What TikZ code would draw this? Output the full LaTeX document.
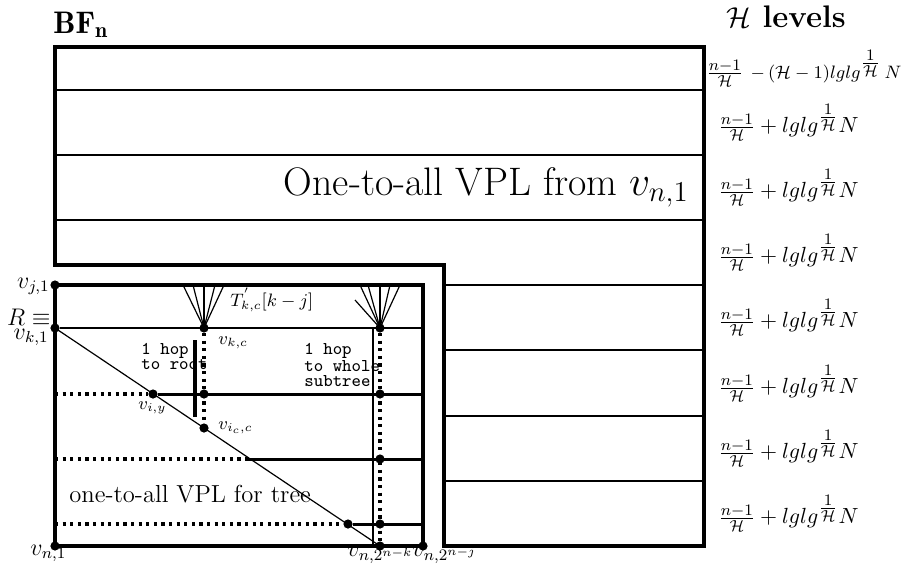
\documentclass[tikz,border=0pt]{standalone}
\usepackage{fontspec}
\usepackage{amsmath}
\usetikzlibrary{positioning}

\newcommand{\lvlcost}{$\frac{n-1}{\mathcal{H}} + lglg^{\textstyle\frac{1}{\mathcal{H}}}N$}

\begin{document}
\begin{tikzpicture}[
    x=0.5pt, y=-0.5pt,
    frame/.style     = {line width=2pt},
    rule/.style      = {line width=1.2pt},
    treeline/.style  = {line width=1.5pt},
    fanline/.style   = {line width=0.6pt},
    hop/.style       = {line width=1.6pt, dash pattern=on 1.6pt off 2.2pt},
    dot/.style       = {circle, fill, inner sep=0pt, minimum size=4.6pt},
    lvl/.style       = {anchor=west, inner sep=0pt, font=\fontsize{10.95}{13}\selectfont},
    vname/.style     = {inner sep=0pt, font=\fontsize{12}{14}\selectfont},
    tag/.style       = {inner sep=0pt, font=\fontsize{9}{10}\selectfont},
    note/.style      = {inner sep=0pt, align=left, font=\fontsize{9}{7.4}\selectfont\ttfamily}
]
\useasboundingbox (0,0) rectangle (910,569);

% BF_n levels: upper band and right column
\draw[frame] (444,546) -- (704,546) -- (704,47) -- (55,47) -- (55,265) -- (444,265) -- cycle;
\foreach \y in {90, 155, 220}
    \draw[rule] (55,\y) -- (704,\y);
\foreach \y in {285, 350, 416, 481}
    \draw[rule] (444,\y) -- (704,\y);

% tree nodes
\node[dot] (vj1)   at (55,285)  {};
\node[dot] (R)     at (55,328)  {};
\node[dot] (vkc)   at (204,328) {};
\node[dot] (vsub)  at (380,328) {};
\node[dot] (viy)   at (153,394) {};
\node[dot] (vcy)   at (204,394) {};
\node[dot] (vsy)   at (380,394) {};
\node[dot] (vic)   at (204,428) {};
\node[dot] (vsz)   at (380,459) {};
\node[dot] (vlast) at (348,524) {};
\node[dot] (vsw)   at (380,524) {};
\node[dot] (vn1)   at (55,546)  {};
\node[dot] (vnk)   at (380,546) {};
\node[dot] (vnj)   at (423,546) {};
\coordinate (ne)   at (423,285);
\coordinate (cut)  at (248,459);

% tree box
\draw[frame] (vj1.center) -- (ne) -- (vnj.center) -- (vn1.center) -- cycle;
\draw[rule] (R) -- (423,328);
\draw[treeline] (viy) -- (423,394);
\draw[treeline] (cut) -- (423,459);
\draw[treeline] (vlast) -- (423,524);
\draw[hop] (55,394) -- (viy);
\draw[hop] (55,459) -- (cut);
\draw[hop] (55,524) -- (vlast);
\draw[hop] (vkc) -- (vic);
\draw[hop] (vsub) -- (vnk);
\draw[fanline] (R.center) -- (vnk.center);
\draw[fanline, line width=0.8pt] (373,328) -- (373,546);
\draw[line width=1.6pt] (195,340) -- (195,417);

% subtree fans
\foreach \x in {183, 193, 215, 224}
    \draw[fanline] (vkc.center) -- (\x,285);
\draw[rule] (vkc.center) -- (204,285);
\foreach \x in {360, 368, 390, 400}
    \draw[fanline] (vsub.center) -- (\x,285);
\draw[fanline] (vsub.center) -- (355,300);
\draw[rule] (vsub.center) -- (380,285);

% labels
\node[anchor=base west, inner sep=0pt, font=\fontsize{15.6}{18}\selectfont] (bf) at (53,33) {$\mathbf{BF_n}$};
\node[anchor=base west, inner sep=0pt, font=\fontsize{15.6}{18}\selectfont\bfseries] (hl) at (726,27) {$\mathcal{H}$ levels};
\node[anchor=base east, inner sep=0pt, font=\fontsize{19.9}{24}\selectfont] (vpl) at (689,195) {One-to-all VPL from $v_{n,1}$};
\node[anchor=base west, inner sep=0pt, font=\fontsize{12.3}{14}\selectfont] (tree) at (69,502) {one-to-all VPL for tree};

\node[vname, anchor=base east] at (50,288) {$v_{j,1}$};
\node[vname, anchor=base east] at (51,325) {$R\equiv$};
\node[vname, anchor=base east] at (49,339) {$v_{k,1}$};
\node[vname, anchor=base west] at (30,555) {$v_{n,1}$};
\node[vname, anchor=base west] at (347,556) {$v_{n,2^{n-k}}$};
\node[vname, anchor=base west] at (412,556) {$v_{n,2^{n-j}}$};
\node[tag, anchor=base west] at (218,344) {$v_{k,c}$};
\node[tag, anchor=base west] at (138,409) {$v_{i,y}$};
\node[tag, anchor=base west] at (218,429) {$v_{i_c,c}$};
\node[tag, anchor=base west] at (230,306) {$T^{'}_{k,c}[k-j]$};
\node[note, anchor=north west] at (141,343) {1 hop\\to root};
\node[note, anchor=north west] at (304,343) {1 hop\\to whole\\subtree};

% level costs
\node[lvl] (lvl1) at (706,68) {$\frac{n-1}{\mathcal{H}}$ {\fontsize{9}{10}\selectfont$-\,(\mathcal{H}-1)lglg$}$^{\textstyle\frac{1}{\mathcal{H}}}$\,{\fontsize{9}{10}\selectfont$N$}};
\foreach \i/\y in {2/122, 3/187, 4/252, 5/317, 6/383, 7/448, 8/513}
    \node[lvl] (lvl\i) at (718,\y) {\lvlcost};

\end{tikzpicture}
\end{document}
